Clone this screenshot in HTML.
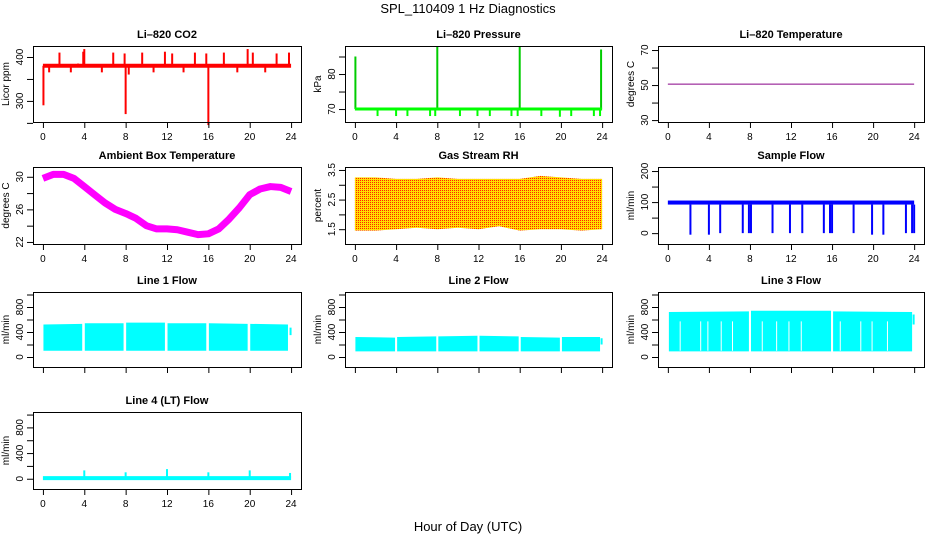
<!DOCTYPE html>
<html><head><meta charset="utf-8">
<style>
html,body{margin:0;padding:0;background:#fff;}
svg{display:block;font-family:"Liberation Sans",sans-serif;}
</style></head>
<body>
<svg id="c" width="936" height="540" viewBox="0 0 936 540">
<defs>
<pattern id="rhpat" width="2" height="2" patternUnits="userSpaceOnUse">
<rect width="2" height="2" fill="#ffdd00"/><rect width="1" height="1" fill="#ff2200"/>
</pattern>
</defs>
<text x="468" y="13" text-anchor="middle" font-size="13">SPL_110409  1 Hz Diagnostics</text>
<text x="468" y="531" text-anchor="middle" font-size="13">Hour of Day (UTC)</text>
</svg>
<script>
// ---- data ----
const xTicks = [0,4,8,12,16,20,24];
const co2Base = 380;
const co2SpikeHours = [0.05,0.6,1.6,2.7,3.4,3.9,4.0,5.7,6.8,7.9,8.0,8.3,9.6,10.7,11.8,12.5,13.6,14.7,15.8,16.0,17.5,18.8,19.8,20.3,21.5,22.6,23.8];
const co2SpikeValues = [290,365,410,365,385,412,418,365,410,408,270,360,410,365,412,408,365,410,408,245,410,365,418,410,365,408,410];
const presBase = 70;
const presSpikeHours = [0.05,8.0,16.0,23.9];
const presSpikeValues = [85,88,88,87];
const presDipHours = [2.2,4.0,5.1,7.3,7.8,10.2,11.9,13.1,15.2,15.8,18.1,19.9,21.0,23.2,23.8];
const presDipValues = [68,68,68,68,68,68,68,68,68,68,68,67.8,68,68,68];
const liTempHours = [0,24];
const liTempValues = [50.5,50.5];
const ambHours = [0,1,2,3,4,5,6,7,8,9,10,11,12,13,14,15,16,17,18,19,20,21,22,23,24];
const ambValues = [29.8,30.3,30.3,29.8,28.8,27.8,26.8,26.0,25.5,24.9,24.0,23.6,23.6,23.5,23.2,22.9,23.0,23.6,24.8,26.2,27.8,28.5,28.8,28.7,28.2];
const rhHours = [0,2,4,6,8,10,12,14,16,18,20,22,24];
const rhMax = [3.25,3.25,3.2,3.2,3.25,3.2,3.2,3.2,3.2,3.3,3.25,3.2,3.2];
const rhMin = [1.45,1.45,1.5,1.55,1.5,1.55,1.5,1.6,1.45,1.5,1.5,1.45,1.5];
const sfBaseHigh = 105, sfBaseLow = 92;
const sfDipHours = [2.2,4.0,5.1,7.3,7.9,8.1,10.2,11.9,13.1,15.2,15.8,16.0,18.1,19.9,21.0,23.2,23.8,24.0];
const sfDipValues = [-5,-5,0,0,0,0,0,0,0,0,0,0,0,-5,-5,0,0,0];
const l1Hours = [0.05,3.8,4.05,7.8,8.05,11.8,12.05,15.8,16.05,19.8,20.05,23.7];
const l1Max = [520,530,540,540,550,550,540,540,540,530,530,520];
const l1Min = [100,100,100,100,100,100,100,100,100,100,100,100];
const l2Hours = [0.05,3.9,4.1,7.9,8.1,11.9,12.1,15.9,16.1,19.9,20.1,23.8];
const l2Max = [320,310,320,330,330,340,340,330,320,310,320,320];
const l2Min = [90,90,90,90,90,90,90,90,90,90,90,90];
const l3Hours = [0.1,7.9,8.1,15.9,16.1,23.8];
const l3Max = [720,730,740,740,730,720];
const l3Min = [90,90,90,90,90,90];
const l3GapHours = [1.2,3.2,3.9,5.2,6.3,9.2,10.6,11.8,13.0,16.8,18.8,19.9,21.4];
const l4Base = 10;
const l4SpikeHours = [4.0,8.0,12.0,16.0,20.0,23.9];
const l4SpikeValues = [130,100,150,100,130,90];

// ---- layout ----
const svg = document.getElementById('c');
const NS = 'http://www.w3.org/2000/svg';
const cols = [[33,301],[345,612],[658,924]];
const rows = [[46,122],[167,244],[292,367],[412,489]];
const XMIN = -0.96, XMAX = 24.96;
function mk(tag, attrs, parent){const e=document.createElementNS(NS,tag);for(const k in attrs)e.setAttribute(k,attrs[k]);(parent||svg).appendChild(e);return e;}

function panel(ci, ri, cfg){
  const [L,R]=cols[ci],[T,B]=rows[ri];
  const g=mk('g',{});
  
  
  const sx=h=>L+(h-XMIN)/(XMAX-XMIN)*(R-L);
  const sy=v=>B-(v-cfg.ymin)/(cfg.ymax-cfg.ymin)*(B-T);
  const t=mk('text',{x:(L+R)/2,y:T-8,'text-anchor':'middle','font-size':11,'font-weight':'bold'},g);
  t.textContent=cfg.title;
  
  
  const plot=mk('g',{},g);
  
  
  cfg.draw(plot,sx,sy);
  const box=mk('rect',{x:L+0.5,y:T+0.5,width:R-L,height:B-T,fill:'none',stroke:'#000','stroke-width':1},g);
  
  
  const xa=mk('g',{},g);
  
  
  mk('line',{x1:sx(0),x2:sx(24),y1:B+0.5,y2:B+0.5,stroke:'#000'},xa);
  xTicks.forEach(v=>{
    mk('line',{x1:sx(v)+0.5,x2:sx(v)+0.5,y1:B,y2:B+6,stroke:'#000'},xa);
    if(cfg.xlabels){const tt=mk('text',{x:sx(v),y:B+18,'text-anchor':'middle','font-size':10},xa);tt.textContent=v;}
  });
  const ya=mk('g',{},g);
  
  
  const yt=cfg.yticks;
  mk('line',{x1:L+0.5,x2:L+0.5,y1:sy(yt[0]),y2:sy(yt[yt.length-1]),stroke:'#000'},ya);
  yt.forEach(v=>{
    const y=sy(v);
    mk('line',{x1:L-6,x2:L,y1:y+0.5,y2:y+0.5,stroke:'#000'},ya);
    if(cfg.ylabels.includes(v)){const tt=mk('text',{x:0,y:0,'text-anchor':'middle','font-size':10,transform:`translate(${L-10},${y}) rotate(-90)`},ya);tt.textContent=v;}
  });
  const yl=mk('text',{x:0,y:0,'text-anchor':'middle','font-size':10,transform:`translate(${L-24},${(T+B)/2}) rotate(-90)`},g);
  yl.textContent=cfg.ylab;
  
  
}
function seg(p,x1,y1,x2,y2,c,w){return mk('line',{x1,y1,x2,y2,stroke:c,'stroke-width':w||1},p);}
function band(p,sx,sy,hs,mx,mn,fill){
  let d='M'+hs.map((h,i)=>sx(h)+','+sy(mx[i])).join('L');
  for(let i=hs.length-1;i>=0;i--)d+='L'+sx(hs[i])+','+sy(mn[i]);
  return mk('path',{d:d+'Z',fill,stroke:'none'},p);
}
function bandSegments(p,sx,sy,hs,mx,mn,fill){
  for(let i=0;i<hs.length;i+=2){
    mk('polygon',{points:`${sx(hs[i])},${sy(mx[i])} ${sx(hs[i+1])},${sy(mx[i+1])} ${sx(hs[i+1])},${sy(mn[i+1])} ${sx(hs[i])},${sy(mn[i])}`,fill},p);
  }
}

panel(0,0,{name:'co2-panel',title:'Li\u2013820 CO2',ymin:252,ymax:425,yticks:[250,300,350,400],ylabels:[300,400],ylab:'Licor ppm',xlabels:true,
  draw:(p,sx,sy)=>{
    co2SpikeHours.forEach((h,i)=>seg(p,sx(h),sy(co2Base),sx(h),sy(co2SpikeValues[i]),'#ff0000',2));
    seg(p,sx(0),sy(co2Base),sx(24),sy(co2Base),'#ff0000',4);
  }});
panel(1,0,{name:'pressure-panel',title:'Li\u2013820 Pressure',ymin:66.3,ymax:88,yticks:[70,75,80,85],ylabels:[70,80],ylab:'kPa',xlabels:true,
  draw:(p,sx,sy)=>{
    presDipHours.forEach((h,i)=>seg(p,sx(h),sy(presBase),sx(h),sy(presDipValues[i]),'#00ff00',2));
    presSpikeHours.forEach((h,i)=>seg(p,sx(h),sy(presBase),sx(h),sy(presSpikeValues[i]),'#00cc00',2));
    seg(p,sx(0),sy(presBase),sx(24),sy(presBase),'#00ff00',3);
  }});
panel(2,0,{name:'licor-temperature-panel',title:'Li\u2013820 Temperature',ymin:28.9,ymax:72.3,yticks:[30,40,50,60,70],ylabels:[30,50,70],ylab:'degrees C',xlabels:true,
  draw:(p,sx,sy)=>{
    mk('polyline',{points:liTempHours.map((h,i)=>sx(h)+','+sy(liTempValues[i])).join(' '),fill:'none',stroke:'#880088','stroke-width':1},p);
  }});
panel(0,1,{name:'ambient-temperature-panel',title:'Ambient Box Temperature',ymin:21.75,ymax:31.2,yticks:[22,24,26,28,30],ylabels:[22,26,30],ylab:'degrees C',xlabels:true,
  draw:(p,sx,sy)=>{
    mk('polyline',{points:ambHours.map((h,i)=>sx(h)+','+sy(ambValues[i])).join(' '),fill:'none',stroke:'#ff00ff','stroke-width':7,'stroke-linejoin':'round'},p);
  }});
panel(1,1,{name:'rh-panel',title:'Gas Stream RH',ymin:1.0,ymax:3.6,yticks:[1.5,2,2.5,3,3.5],ylabels:[1.5,2.5,3.5],ylab:'percent',xlabels:true,
  draw:(p,sx,sy)=>{ band(p,sx,sy,rhHours,rhMax,rhMin,'url(#rhpat)'); }});
panel(2,1,{name:'sample-flow-panel',title:'Sample Flow',ymin:-35,ymax:213,yticks:[0,50,100,150,200],ylabels:[0,100,200],ylab:'ml/min',xlabels:true,
  draw:(p,sx,sy)=>{
    mk('rect',{x:sx(0),y:sy(sfBaseHigh),width:sx(24)-sx(0),height:sy(sfBaseLow)-sy(sfBaseHigh),fill:'#0000ff'},p);
    sfDipHours.forEach((h,i)=>seg(p,sx(h),sy(sfBaseLow),sx(h),sy(sfDipValues[i]),'#0000ff',2));
  }});
const flowTicks=[0,200,400,600,800,1000], flowLabels=[0,400,800];
panel(0,2,{name:'line1-flow-panel',title:'Line 1 Flow',ymin:-160,ymax:1040,yticks:flowTicks,ylabels:flowLabels,ylab:'ml/min',xlabels:false,
  draw:(p,sx,sy)=>{ bandSegments(p,sx,sy,l1Hours,l1Max,l1Min,'#00ffff'); seg(p,sx(23.95),sy(470),sx(23.95),sy(350),'#00ffff',2); }});
panel(1,2,{name:'line2-flow-panel',title:'Line 2 Flow',ymin:-160,ymax:1040,yticks:flowTicks,ylabels:flowLabels,ylab:'ml/min',xlabels:false,
  draw:(p,sx,sy)=>{ bandSegments(p,sx,sy,l2Hours,l2Max,l2Min,'#00ffff'); seg(p,sx(23.95),sy(300),sx(23.95),sy(200),'#00ffff',2); }});
panel(2,2,{name:'line3-flow-panel',title:'Line 3 Flow',ymin:-160,ymax:1040,yticks:flowTicks,ylabels:flowLabels,ylab:'ml/min',xlabels:false,
  draw:(p,sx,sy)=>{
    bandSegments(p,sx,sy,l3Hours,l3Max,l3Min,'#00ffff');
    l3GapHours.forEach(h=>seg(p,sx(h),sy(570),sx(h),sy(100),'#ffffff',1));
    seg(p,sx(23.95),sy(680),sx(23.95),sy(520),'#00ffff',2);
  }});
panel(0,3,{name:'line4-flow-panel',title:'Line 4 (LT) Flow',ymin:-160,ymax:1040,yticks:flowTicks,ylabels:flowLabels,ylab:'ml/min',xlabels:true,
  draw:(p,sx,sy)=>{
    l4SpikeHours.forEach((h,i)=>seg(p,sx(h),sy(l4Base),sx(h),sy(l4SpikeValues[i]),'#00ffff',2));
    seg(p,sx(0),sy(l4Base),sx(24),sy(l4Base),'#00ffff',4);
  }});
</script>
</body></html>
